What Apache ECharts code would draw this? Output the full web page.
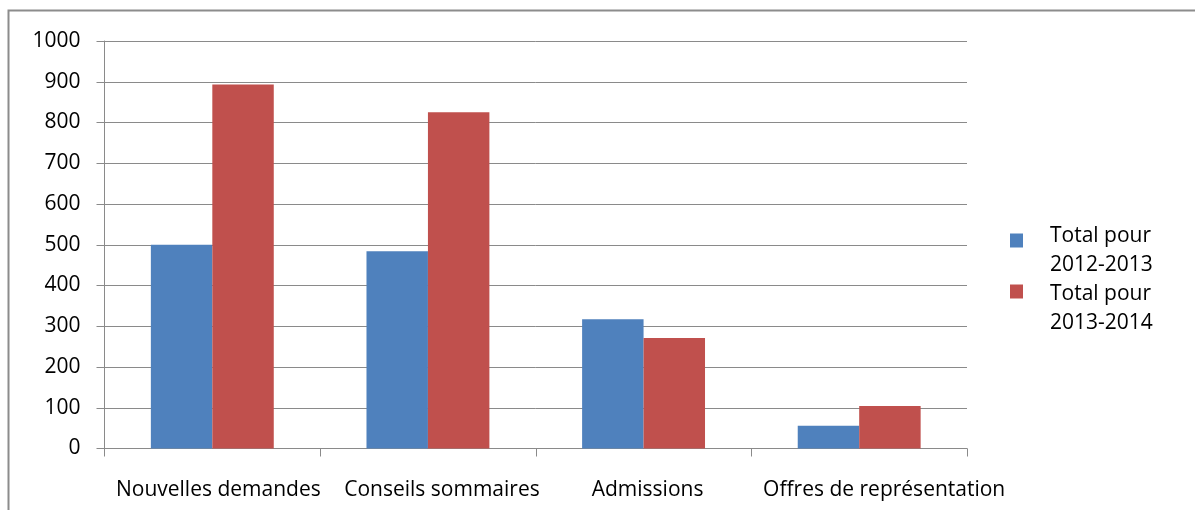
<!DOCTYPE html>
<html>
<head>
<meta charset="utf-8">
<style>
  html, body { margin: 0; padding: 0; background: #fff; }
  #chart { width: 1195px; height: 510px; }
</style>
<script src="https://cdn.jsdelivr.net/npm/echarts@6/dist/echarts.min.js"></script>
</head>
<body>
<div id="chart"></div>
<script>
// Activity categories and yearly totals
const categories = ['Nouvelles demandes', 'Conseils sommaires', 'Admissions', 'Offres de représentation'];
const seriesNames = ['Total pour 2012-2013', 'Total pour 2013-2014'];
const legendLines = [['Total pour', '2012-2013'], ['Total pour', '2013-2014']];
const totals2012 = [500, 484, 317, 56];
const totals2013 = [893, 825, 271, 104];
const yTicks = { min: 0, max: 1000, interval: 100 };

const FONT = '"Open Sans", "Liberation Sans", sans-serif';
const GRID_GRAY = '#8a8a8a';
const BLUE = '#4F81BD';
const RED = '#C0504D';

// left padding that nudges each category label to the right
const labelNudge = [12, 28, 8, 50];

const chart = echarts.init(document.getElementById('chart'), null, { renderer: 'canvas' });

// One legend block per series; a thin spacer line nudges the two-line label
// relative to its colour swatch.
function legendFor(idx, top, spacer) {
  return {
    orient: 'vertical',
    left: 1010,
    top: top,
    padding: 0,
    itemWidth: 13,
    itemHeight: 14,
    itemGap: 0,
    selectedMode: false,
    icon: 'rect',
    data: [seriesNames[idx]],
    formatter: function () {
      return '{s| }\n{t|' + legendLines[idx][0] + '}\n{t|' + legendLines[idx][1] + '}';
    },
    textStyle: {
      fontFamily: FONT,
      fontSize: 21,
      color: '#000',
      padding: [0, 0, 0, 22],
      rich: {
        s: { fontSize: 1, lineHeight: spacer },
        t: { fontFamily: FONT, fontSize: 21, color: '#000', lineHeight: 29 }
      }
    }
  };
}

chart.setOption({
  animation: false,
  backgroundColor: '#fff',
  textStyle: { fontFamily: FONT },
  graphic: [{
    type: 'rect',
    shape: { x: 8.5, y: 10.5, width: 1250, height: 600 },
    style: { fill: 'none', stroke: '#8c8c8c', lineWidth: 2 },
    silent: true
  }],
  legend: [
    legendFor(0, 211, 20),
    legendFor(1, 262, 35)
  ],
  grid: { left: 104.5, right: 228, top: 41, bottom: 61.5, containLabel: false },
  xAxis: {
    type: 'category',
    data: categories.map(function (name, i) {
      return { value: name, textStyle: { padding: [0, 0, 0, labelNudge[i]] } };
    }),
    boundaryGap: true,
    axisLine: { show: true, lineStyle: { color: GRID_GRAY, width: 1 } },
    axisTick: { show: true, length: 8, lineStyle: { color: GRID_GRAY } },
    axisLabel: { interval: 0, margin: 31, fontFamily: FONT, fontSize: 21, color: '#000', hideOverlap: false },
    splitLine: { show: false }
  },
  yAxis: {
    type: 'value',
    min: yTicks.min,
    max: yTicks.max,
    interval: yTicks.interval,
    axisLine: { show: true, lineStyle: { color: GRID_GRAY, width: 1 } },
    axisTick: { show: true, length: 8, lineStyle: { color: GRID_GRAY } },
    axisLabel: {
      margin: 24, fontFamily: FONT, fontSize: 21, color: '#000',
      formatter: function (v) { return String(v); }
    },
    splitLine: { show: true, lineStyle: { color: GRID_GRAY, width: 1 } }
  },
  series: [
    {
      name: seriesNames[0],
      type: 'bar',
      data: totals2012,
      itemStyle: { color: BLUE },
      barGap: '0%',
      barCategoryGap: '43%'
    },
    {
      name: seriesNames[1],
      type: 'bar',
      data: totals2013,
      itemStyle: { color: RED },
      barGap: '0%',
      barCategoryGap: '43%'
    }
  ]
});
</script>
</body>
</html>
